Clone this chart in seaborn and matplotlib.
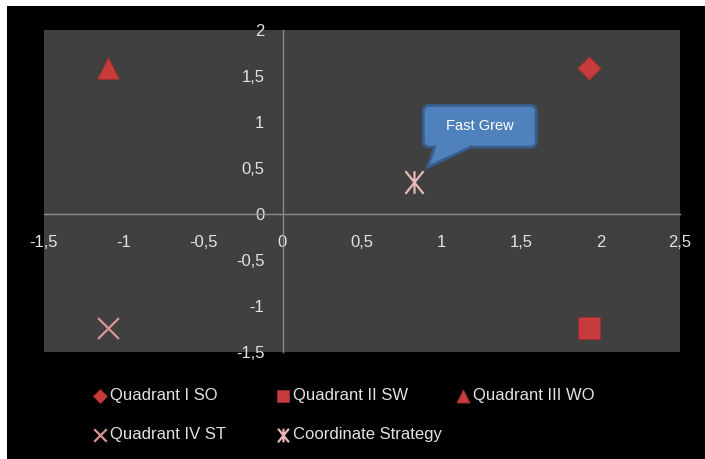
import matplotlib
matplotlib.use("Agg")
import numpy as np
import pandas as pd
import seaborn as sns
import matplotlib.pyplot as plt
from matplotlib.path import Path
from matplotlib.patches import Rectangle

# ---- data ----
series = ["Quadrant I SO", "Quadrant II SW", "Quadrant III WO",
          "Quadrant IV ST", "Coordinate Strategy"]
x_values = [1.93, 1.93, -1.10, -1.10, 0.83]
y_values = [1.59, -1.24, 1.59, -1.24, 0.35]
x_ticks = [-1.5, -1, -0.5, 0, 0.5, 1, 1.5, 2, 2.5]
y_ticks = [-1.5, -1, -0.5, 0, 0.5, 1, 1.5, 2]
callout_text = "Fast Grew"
callout_series = "Coordinate Strategy"

sns.set_style("white")
FONT = ["Liberation Sans", "DejaVu Sans"]
plt.rcParams["font.family"] = FONT

TXT = "#E3E3E3"
RED = "#C63B3B"
RED_EDGE = "#9E2E2E"
PINK = "#D99694"
STAR = "#E6B9B8"

star_path = Path([(0, -1), (0, 1), (-0.8, -1), (0.8, 1), (-0.8, 1), (0.8, -1)],
                 [Path.MOVETO, Path.LINETO] * 3)

styles = {
    "Quadrant I SO": dict(marker="D", s=140, color=RED, edgecolor=RED_EDGE, linewidth=0.6),
    "Quadrant II SW": dict(marker="s", s=230, color=RED, edgecolor=RED_EDGE, linewidth=0.6),
    "Quadrant III WO": dict(marker="^", s=245, color=RED, edgecolor=RED_EDGE, linewidth=0.6),
    "Quadrant IV ST": dict(marker="x", s=225, color=PINK, edgecolor=PINK, linewidth=1.6),
    "Coordinate Strategy": dict(marker=star_path, s=265, color=STAR, edgecolor=STAR, linewidth=1.6),
}

df = pd.DataFrame({"series": series, "x": x_values, "y": y_values})

fig = plt.figure(figsize=(7.05, 4.59), dpi=100, facecolor="white")
fig.patches.append(Rectangle((7 / 705, 0), 1, 1 - 6 / 459, transform=fig.transFigure,
                             facecolor="black", edgecolor="none", zorder=-10))
ax = fig.add_axes([44 / 705, 1 - 352 / 459, 636 / 705, 322 / 459])
ax.set_facecolor("#404040")

for name in series:
    sub = df[df["series"] == name]
    sns.scatterplot(data=sub, x="x", y="y", ax=ax, label=name, zorder=3, **styles[name])

ax.set_xlim(-1.5, 2.5)
ax.set_ylim(-1.5, 2)
ax.set_xlabel("")
ax.set_ylabel("")

def fmt(v):
    return f"{v:g}".replace(".", ",")

ax.set_xticks(x_ticks)
ax.set_xticklabels([fmt(v) for v in x_ticks])
ax.set_yticks(y_ticks)
ax.set_yticklabels([fmt(v) for v in y_ticks])
ax.tick_params(axis="x", length=0, pad=15, labelsize=12, colors=TXT)
ax.tick_params(axis="y", length=0, pad=13, labelsize=12, colors=TXT)

for side in ("top", "right"):
    ax.spines[side].set_visible(False)
for side in ("left", "bottom"):
    ax.spines[side].set_position(("data", 0))
    ax.spines[side].set_color("#8C8C8C")
    ax.spines[side].set_linewidth(1.0)
    ax.spines[side].set_zorder(1)

# ---- legend (Excel-style fixed columns) ----
handles, labels = ax.get_legend_handles_labels()
hmap = dict(zip(labels, handles))
if ax.get_legend() is not None:
    ax.get_legend().remove()
columns = [["Quadrant I SO", "Quadrant IV ST"],
           ["Quadrant II SW", "Coordinate Strategy"],
           ["Quadrant III WO"]]
col_x = [92, 275, 455]
for cx, col in zip(col_x, columns):
    leg = fig.legend([hmap[c] for c in col], col, loc="upper left",
                     bbox_to_anchor=(cx / 705, 1 - 388 / 459), frameon=False,
                     fontsize=12, labelcolor=TXT, markerscale=0.6,
                     handlelength=0.9, handletextpad=0.2, labelspacing=1.45,
                     borderpad=0, borderaxespad=0)

# ---- callout (rounded box with a tail pointing back to the annotated point) ----
OFFSET_PT = (47, 40)

def callout_box(x0, y0, width, height, mutation_size):
    px, py = 1.55 * mutation_size, 0.95 * mutation_size
    r = 0.4 * mutation_size
    L, R = x0 - px, x0 + width + px
    B, T = y0 - py, y0 + height + py
    cx, cy = x0 + width / 2, y0 + height / 2
    off = np.array(OFFSET_PT) * fig.dpi / 72.0
    ptx, pty = cx - off[0], cy - off[1]
    tx, ty = ptx + 0.2 * off[0], pty + 0.26 * off[1]
    xa, xb = L + 0.10 * (R - L), L + 0.42 * (R - L)
    verts = [(L + r, B), (xa, B), (tx, ty), (xb, B), (R - r, B),
             (R, B), (R, B + r), (R, T - r),
             (R, T), (R - r, T), (L + r, T),
             (L, T), (L, T - r), (L, B + r),
             (L, B), (L + r, B), (L + r, B)]
    codes = [Path.MOVETO, Path.LINETO, Path.LINETO, Path.LINETO, Path.LINETO,
             Path.CURVE3, Path.CURVE3, Path.LINETO,
             Path.CURVE3, Path.CURVE3, Path.LINETO,
             Path.CURVE3, Path.CURVE3, Path.LINETO,
             Path.CURVE3, Path.CURVE3, Path.CLOSEPOLY]
    return Path(verts, codes)

i = series.index(callout_series)
ax.annotate(callout_text, xy=(x_values[i], y_values[i]), xytext=OFFSET_PT,
            textcoords="offset points", ha="center", va="center",
            fontsize=10.5, color="white", zorder=5,
            bbox=dict(boxstyle=callout_box, fc="#4F81BD", ec="#385D8A", lw=2.0))

fig.savefig("out.png", dpi=100, facecolor=fig.get_facecolor())
